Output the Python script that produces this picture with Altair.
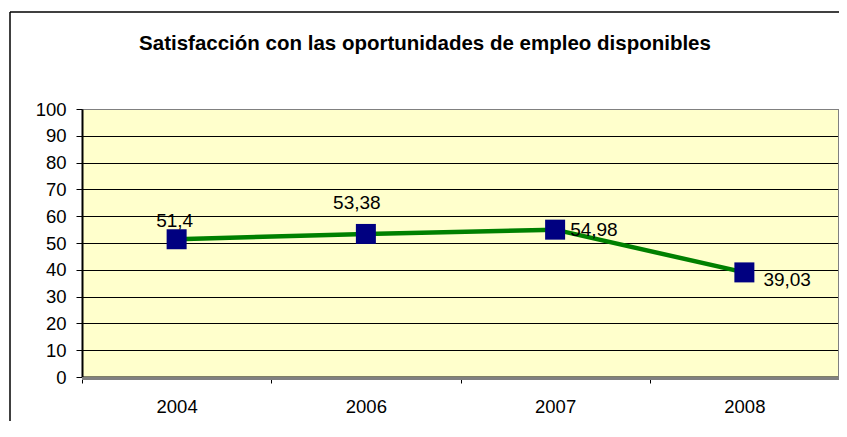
import altair as alt
import pandas as pd

title_text = "Satisfacción con las oportunidades de empleo disponibles"
years = ["2004", "2006", "2007", "2008"]
values = [51.4, 53.38, 54.98, 39.03]
labels = ["51,4", "53,38", "54,98", "39,03"]

# label offsets (style, not data)
label_dx = [-2, -9, 15, 19]
label_dy = [-18, -31, 0, 8]
label_align = ["center", "center", "left", "left"]

df = pd.DataFrame({"year": years, "value": values, "label": labels})

W, H = 757, 268
PL, PT = 74, 101
FONT = "Liberation Sans"

xenc = alt.X("year:N", bandPosition=0.5, sort=years,
             scale=alt.Scale(type="band", paddingInner=0, paddingOuter=0),
             axis=alt.Axis(title=None, tickBand="extent", labelAngle=0, labelFont=FONT,
                           labelFontSize=18.5, labelColor="black", labelPadding=14,
                           tickColor="black", tickSize=6, domainColor="black",
                           domainWidth=2, grid=False))
yenc = alt.Y("value:Q", scale=alt.Scale(domain=[0, 100], nice=False),
             axis=alt.Axis(title=None, values=list(range(0, 101, 10)), labelFont=FONT,
                           labelFontSize=18.5, labelColor="black", labelPadding=10,
                           tickColor="black", tickSize=6, domainColor="black",
                           domainWidth=2, grid=True,
                           gridColor=alt.expr("datum.value == 100 ? '#808080' : '#000000'"),
                           gridWidth=1))

base = alt.Chart(df)

line = base.mark_line(color="#008000", strokeWidth=4.5).encode(x=xenc, y=yenc)
pts = base.mark_point(shape="square", filled=True, size=400, color="#000080",
                      opacity=1).encode(x=xenc, y=yenc)

texts = []
for i, yr in enumerate(years):
    texts.append(
        base.transform_filter(alt.datum.year == yr)
        .mark_text(font=FONT, fontSize=19, color="black", align=label_align[i],
                   baseline="middle", dx=label_dx[i], dy=label_dy[i])
        .encode(x=xenc, y=yenc, text="label:N")
    )

frame_df = pd.DataFrame({"a": [0]})
FX = -(PL + 8 - 10)
FY = -(PT + 8 - 12)
frame_left = alt.Chart(frame_df).mark_rule(color="black", strokeWidth=1.5).encode(
    x=alt.value(FX), y=alt.value(FY), y2=alt.value(H + 100))
frame_top = alt.Chart(frame_df).mark_rule(color="black", strokeWidth=1.5).encode(
    x=alt.value(FX), x2=alt.value(W + 8), y=alt.value(FY))

shadow_r = alt.Chart(frame_df).mark_rule(color="#808080", strokeWidth=3).encode(
    x=alt.value(W + 0.5), y=alt.value(0), y2=alt.value(H + 3))
shadow_b = alt.Chart(frame_df).mark_rule(color="#808080", strokeWidth=3).encode(
    x=alt.value(0), x2=alt.value(W + 2), y=alt.value(H + 1.5))

title = alt.Chart(pd.DataFrame({"t": [title_text]})).mark_text(
    font=FONT, fontSize=20.5, fontWeight="bold", color="black", align="center",
    baseline="alphabetic").encode(text="t:N", x=alt.value(425 - 8 - PL), y=alt.value(50 - 8 - PT))

chart = alt.layer(frame_left, frame_top, shadow_r, shadow_b, line, pts, *texts, title).properties(
    width=W, height=H,
    background="white",
    autosize=alt.AutoSizeParams(type="none"),
    padding={"left": PL, "top": PT, "right": 0, "bottom": 44},
).configure_view(fill="#FFFFCC", stroke="#808080", strokeWidth=1)

chart.save("out.html", embed_options={"renderer": "svg", "actions": False})
